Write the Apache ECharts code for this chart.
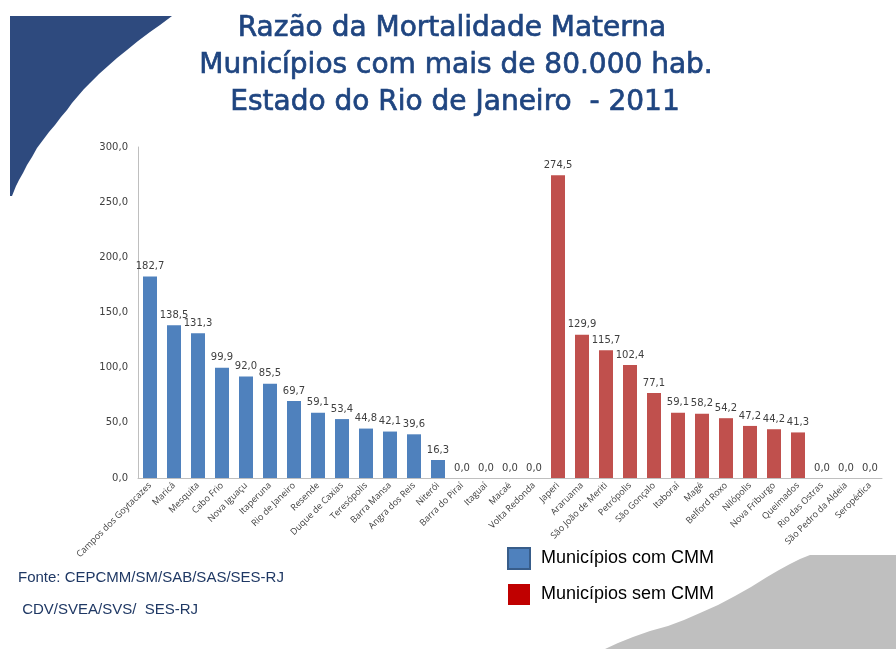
<!DOCTYPE html>
<html>
<head>
<meta charset="utf-8">
<script src="https://cdn.jsdelivr.net/npm/echarts@6/dist/echarts.min.js"></script>
<style>html,body{margin:0;padding:0;background:#fff;}#chart{width:896px;height:649px;}</style>
</head>
<body>
<div id="chart"></div>
<script>
const categories = ['Campos dos Goytacazes','Maricá','Mesquita','Cabo Frio','Nova Iguaçu','Itaperuna','Rio de Janeiro','Resende','Duque de Caxias','Teresópolis','Barra Mansa','Angra dos Reis','Niterói','Barra do Piraí','Itaguaí','Macaé','Volta Redonda','Japeri','Araruama','São João de Meriti','Petrópolis','São Gonçalo','Itaboraí','Magé','Belford Roxo','Nilópolis','Nova Friburgo','Queimados','Rio das Ostras','São Pedro da Aldeia','Seropédica'];
const comCMM = [182.7,138.5,131.3,99.9,92.0,85.5,69.7,59.1,53.4,44.8,42.1,39.6,16.3,0,0,0,0,'-','-','-','-','-','-','-','-','-','-','-','-','-','-'];
const semCMM = ['-','-','-','-','-','-','-','-','-','-','-','-','-','-','-','-','-',274.5,129.9,115.7,102.4,77.1,59.1,58.2,54.2,47.2,44.2,41.3,0,0,0];
const yTicks = [0,50,100,150,200,250,300];
const titleLines = ['Razão da Mortalidade Materna','Municípios com mais de 80.000 hab.','Estado do Rio de Janeiro  - 2011'];
const sourceLines = ['Fonte: CEPCMM/SM/SAB/SAS/SES-RJ',' CDV/SVEA/SVS/  SES-RJ'];

// decorative page swooshes
const bluePts = [[10,16],[172,16],[160,25],[150,32],[138,41],[127,50],[117,58],[108,66],[99,74],[90,83],[84,89],[78,96],[72,103],[67,110],[61,117],[55,125],[49,132],[43,140],[37,148],[32,157],[27,165],[23,173],[19,180],[16,186],[12,196],[10,196]];
const greyPts = [[896,555],[896,649],[605,649],[618,643],[633,637],[650,631],[668,626],[684,620],[700,613],[718,605],[735,596],[751,587],[767,577],[779,570],[790,564],[800,559],[810,555]];

const fmt = v => Number(v).toFixed(1).replace('.', ',');
const chart = echarts.init(document.getElementById('chart'));
const labelCfg = {show:true, position:'top', distance:5, fontSize:10, color:'#404040', fontFamily:'DejaVu Sans', formatter:p => fmt(p.value)};
const titleFont = '28px "DejaVu Sans"';
chart.setOption({
  animation:false,
  backgroundColor:'#fff',
  graphic:[
    {type:'polygon', z:-1, shape:{points:bluePts}, style:{fill:'#2e4a7e'}},
    {type:'polygon', z:-1, shape:{points:greyPts}, style:{fill:'#bfbfbf'}},
    {type:'text', x:452, y:15, style:{text:titleLines[0], font:titleFont, fill:'#1f4580', textAlign:'center', stroke:'#1f4580', lineWidth:0.7}},
    {type:'text', x:456, y:52, style:{text:titleLines[1], font:titleFont, fill:'#1f4580', textAlign:'center', stroke:'#1f4580', lineWidth:0.7}},
    {type:'text', x:455, y:89, style:{text:titleLines[2], font:titleFont, fill:'#1f4580', textAlign:'center', stroke:'#1f4580', lineWidth:0.7}},
    {type:'text', left:18, top:570, style:{text:sourceLines[0], font:'15px "Liberation Sans"', fill:'#1f3864'}},
    {type:'text', left:18, top:602, style:{text:sourceLines[1], font:'15px "Liberation Sans"', fill:'#1f3864'}}
  ],
  legend:{
    orient:'vertical', left:502, top:542, itemGap:14, itemWidth:22, itemHeight:21, icon:'rect',
    textStyle:{fontSize:18, color:'#000', fontFamily:'"Liberation Sans"', padding:[0,0,0,6]},
    data:[
      {name:'Municípios com CMM', itemStyle:{color:'#4f81bd', borderColor:'#385d8a', borderWidth:2}},
      {name:'Municípios sem CMM', itemStyle:{color:'#c00000', borderColor:'#c00000', borderWidth:0}}
    ]
  },
  grid:{left:138, right:14, top:147, bottom:171, containLabel:false},
  xAxis:{
    type:'category', data:categories,
    axisLine:{lineStyle:{color:'#bfbfbf'}}, axisTick:{show:false},
    axisLabel:{rotate:45, interval:0, fontSize:9, color:'#404040', fontFamily:'"Open Sans", "Liberation Sans"', margin:6}
  },
  yAxis:{
    type:'value', min:0, max:300, interval:50,
    axisLine:{show:true, lineStyle:{color:'#bfbfbf'}}, axisTick:{show:false}, splitLine:{show:false},
    axisLabel:{fontSize:10, color:'#404040', fontFamily:'DejaVu Sans', margin:10, formatter:v => fmt(v)}
  },
  series:[
    {name:'Municípios com CMM', type:'bar', data:comCMM, barWidth:14, barGap:'-100%', itemStyle:{color:'#4f81bd'}, label:labelCfg},
    {name:'Municípios sem CMM', type:'bar', data:semCMM, barWidth:14, barGap:'-100%', itemStyle:{color:'#c0504d'}, label:labelCfg}
  ]
});
</script>
</body>
</html>
